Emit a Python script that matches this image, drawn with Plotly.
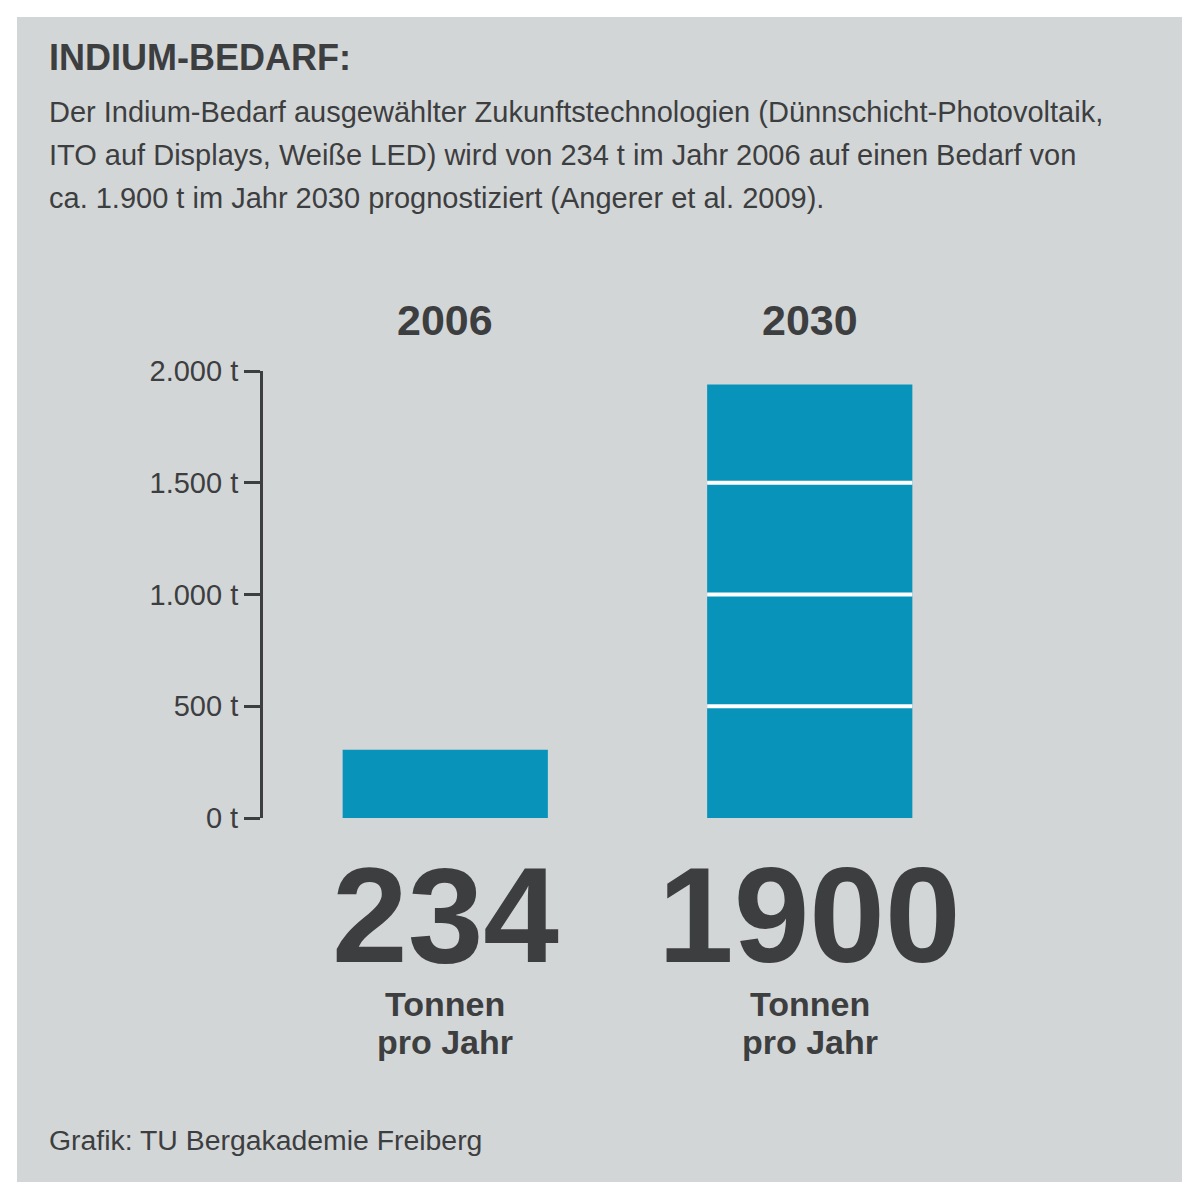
import plotly.graph_objects as go

# ---- data ----
years = ["2006", "2030"]
bar_values = [305, 1940]          # bar heights as drawn (t)
big_labels = ["234", "1900"]       # printed figures
unit_line1 = "Tonnen"
unit_line2 = "pro Jahr"
tick_vals = [0, 500, 1000, 1500, 2000]
tick_text = ["0 t", "500 t", "1.000 t", "1.500 t", "2.000 t"]

title = "INDIUM-BEDARF:"
desc_lines = [
    "Der Indium-Bedarf ausgewählter Zukunftstechnologien (Dünnschicht-Photovoltaik,",
    "ITO auf Displays, Weiße LED) wird von 234 t im Jahr 2006 auf einen Bedarf von",
    "ca. 1.900 t im Jahr 2030 prognostiziert (Angerer et al. 2009).",
]
footer = "Grafik: TU Bergakademie Freiberg"

# ---- style ----
OFF = 8                      # page body margin
W, H = 1184, 1184
L, R, T, B = 255, 200, 363, 374
PW, PH = W - L - R, H - T - B
FONT = "Liberation Sans, Arial, Helvetica, sans-serif"
TXT = "#3d3e40"
BAR = "#0894ba"
PANEL = "#d3d6d7"
BAR_W = 0.563


def px(x):
    return (x - OFF - L) / PW


def py(y):
    return (H - B - (y - OFF)) / PH


fig = go.Figure()
fig.add_trace(go.Bar(x=years, y=bar_values, marker=dict(color=BAR, line=dict(width=0)),
                     width=BAR_W, hoverinfo="skip"))

shapes = [dict(type="rect", xref="paper", yref="paper", x0=px(17), x1=px(1182),
               y0=py(1182), y1=py(17), fillcolor=PANEL, line=dict(width=0), layer="below")]
# white separators inside bars at tick levels
for i, v in enumerate(bar_values):
    for t in tick_vals[1:]:
        if t < v:
            shapes.append(dict(type="line", xref="x", yref="y", x0=i - BAR_W / 2, x1=i + BAR_W / 2,
                               y0=t, y1=t, line=dict(color="white", width=4), layer="above"))

ann = [dict(text=title, x=px(47), y=py(57), xref="paper", yref="paper", xanchor="left",
            yanchor="middle", showarrow=False, font=dict(family=FONT, size=36, color=TXT, weight="bold"))]
for k, line in enumerate(desc_lines):
    ann.append(dict(text=line, x=px(47), y=py(112 + 43 * k), xref="paper", yref="paper",
                    xanchor="left", yanchor="middle", showarrow=False,
                    font=dict(family=FONT, size=29, color=TXT)))
for i, yr in enumerate(years):
    ann.append(dict(text=yr, x=i, y=py(320), xref="x", yref="paper", xanchor="center",
                    yanchor="middle", showarrow=False, font=dict(family=FONT, size=43, color=TXT, weight="bold")))
    ann.append(dict(text=big_labels[i], x=i, y=py(915), xref="x", yref="paper", xanchor="center",
                    yanchor="middle", showarrow=False, font=dict(family=FONT, size=136, color=TXT, weight="bold")))
    ann.append(dict(text=unit_line1, x=i, y=py(1004), xref="x", yref="paper", xanchor="center",
                    yanchor="middle", showarrow=False, font=dict(family=FONT, size=34, color=TXT, weight="bold")))
    ann.append(dict(text=unit_line2, x=i, y=py(1042), xref="x", yref="paper", xanchor="center",
                    yanchor="middle", showarrow=False, font=dict(family=FONT, size=34, color=TXT, weight="bold")))
ann.append(dict(text=footer, x=px(47), y=py(1140), xref="paper", yref="paper", xanchor="left",
                yanchor="middle", showarrow=False, font=dict(family=FONT, size=28.4, color=TXT)))

fig.update_layout(
    width=W, height=H, margin=dict(l=L, r=R, t=T, b=B, pad=0),
    paper_bgcolor="white", plot_bgcolor="rgba(0,0,0,0)",
    showlegend=False, shapes=shapes, annotations=ann,
    xaxis=dict(range=[-0.5, 1.5], showticklabels=False, showline=False, showgrid=False,
               zeroline=False, ticks=""),
    yaxis=dict(range=[0, 2000], tickvals=tick_vals, ticktext=tick_text, showline=True,
               linecolor=TXT, linewidth=3, ticks="outside", ticklen=16, tickwidth=3,
               tickcolor=TXT, showgrid=False, zeroline=False,
               tickfont=dict(family=FONT, size=29, color=TXT)),
)

fig.write_html("out.html")
